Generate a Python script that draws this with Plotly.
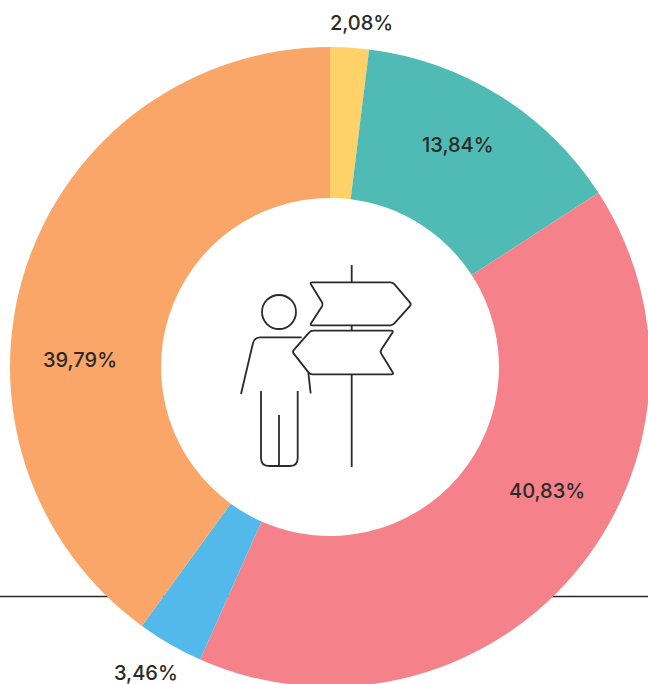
import plotly.graph_objects as go

labels = ["Amarillo", "Turquesa", "Rosa", "Azul", "Naranja"]
# Slice sizes as drawn in the picture, and the percentages printed on them
slice_values = [1.95, 13.89, 40.81, 3.35, 40.00]
printed_values = [2.08, 13.84, 40.83, 3.46, 39.79]
colors = ["#FFD169", "#50BBB5", "#F5828A", "#52B9EA", "#FAA669"]
label_centres = [(361, 23), (458, 145), (547, 491), (146, 673), (80, 360)]
INK = "#2B2A2A"

W, H = 660, 700


def X(x):
    return x / W


def Y(y):
    return 1 - y / H


def rounded(points, r=2.5):
    n = len(points)
    out = []
    for i in range(n):
        px, py = points[i]
        ax, ay = points[i - 1]
        bx, by = points[(i + 1) % n]
        da = ((ax - px) ** 2 + (ay - py) ** 2) ** 0.5
        db = ((bx - px) ** 2 + (by - py) ** 2) ** 0.5
        s = (px + (ax - px) * r / da, py + (ay - py) * r / da)
        e = (px + (bx - px) * r / db, py + (by - py) * r / db)
        out.append(("M" if i == 0 else "L") + f"{X(s[0]):.5f},{Y(s[1]):.5f}")
        out.append(f"Q{X(px):.5f},{Y(py):.5f} {X(e[0]):.5f},{Y(e[1]):.5f}")
    return " ".join(out) + " Z"


def line(*pts):
    return "M" + " L".join(f"{X(a):.5f},{Y(b):.5f}" for a, b in pts)


def stroke(path):
    return dict(type="path", xref="paper", yref="paper", path=path, layer="above",
                line=dict(color=INK, width=1.8))


sign_top = [(309.7, 282.3), (392.7, 282.3), (411.5, 304.3), (392.7, 325.3), (309.7, 325.3), (323.3, 304.3)]
sign_low = [(310.7, 330.7), (393.7, 330.7), (380, 351.7), (394, 374.3), (310, 374.3), (292.2, 351.7)]

shapes = [
    # Rule behind the ring
    dict(type="line", xref="paper", yref="paper", x0=0, x1=X(648), y0=Y(596.5), y1=Y(596.5),
         layer="below", line=dict(color=INK, width=1.5)),
    # Signpost
    stroke(line((351.7, 265), (351.7, 282.3))),
    stroke(line((351.7, 325.3), (351.7, 330.7))),
    stroke(line((351.7, 374.3), (351.7, 467))),
    stroke(rounded(sign_top)),
    stroke(rounded(sign_low)),
    # Person
    dict(type="circle", xref="paper", yref="paper", x0=X(262), x1=X(296), y0=Y(295), y1=Y(329),
         layer="above", line=dict(color=INK, width=1.8)),
    stroke(f"M{X(241)},{Y(394)} L{X(253)},{Y(343)} Q{X(254.5)},{Y(337.3)} {X(260)},{Y(337.3)} L{X(301.7)},{Y(337.3)}"),
    stroke(line((308.3, 372.7), (310.7, 393.3))),
    stroke(f"M{X(261)},{Y(391)} L{X(261)},{Y(458)} Q{X(261)},{Y(466)} {X(269)},{Y(466)} "
           f"L{X(290)},{Y(466)} Q{X(297.7)},{Y(466)} {X(297.7)},{Y(458)} L{X(297.7)},{Y(391)}"),
    stroke(line((279, 415), (279, 466))),
]

annotations = [
    dict(text=f"{v:.2f}%".replace(".", ","), xref="paper", yref="paper", x=X(cx), y=Y(cy),
         xanchor="center", yanchor="middle", showarrow=False,
         font=dict(family="Inter, sans-serif", size=20, weight=500, color=INK))
    for v, (cx, cy) in zip(printed_values, label_centres)
]

fig = go.Figure(go.Pie(
    labels=labels,
    values=slice_values,
    sort=False,
    direction="clockwise",
    rotation=0,
    hole=0.528,
    marker=dict(colors=colors, line=dict(width=0)),
    textinfo="none",
    automargin=False,
    showlegend=False,
    domain=dict(x=[10 / W, 650 / W], y=[1 - 687 / H, 1 - 47 / H]),
))
fig.update_layout(
    width=W, height=H,
    margin=dict(l=0, r=0, t=0, b=0),
    paper_bgcolor="white",
    shapes=shapes,
    annotations=annotations,
)
fig.write_html("out.html", config=dict(displayModeBar=False),
               post_script="document.body.style.margin='0';document.documentElement.style.overflow='hidden';")
